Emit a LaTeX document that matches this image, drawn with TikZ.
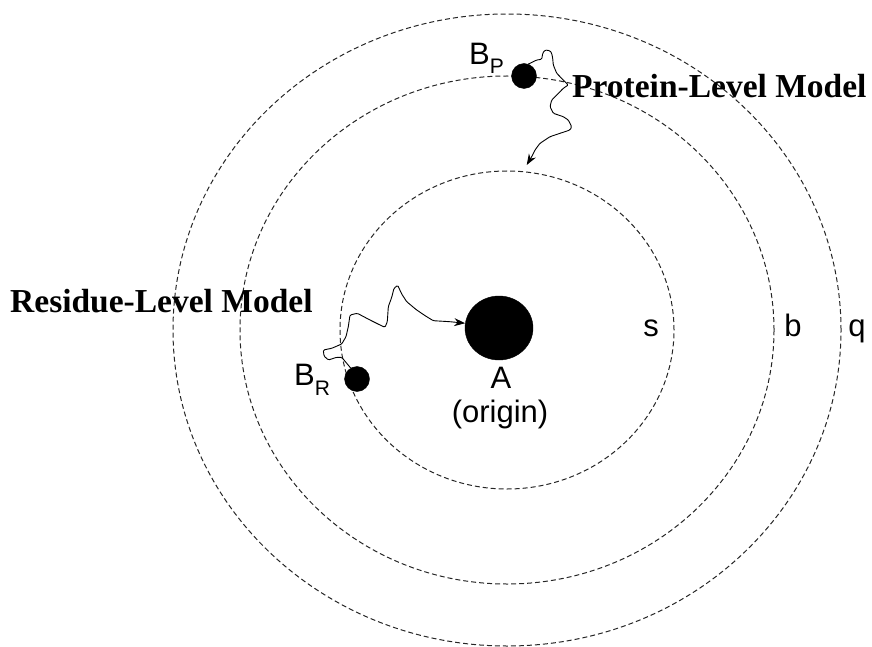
\documentclass[tikz,border=0pt]{standalone}
\usepackage{fontspec}
\setmainfont{Liberation Serif}
\setsansfont{Liberation Sans}
\usetikzlibrary{shapes.geometric,arrows.meta}
\newcommand{\lowsub}[2]{\raisebox{-#1}{\fontsize{21}{21}\selectfont #2}}
\begin{document}
\begin{tikzpicture}[x=1pt,y=-1pt,
  ring/.style={draw=black!85, line width=1pt, dash pattern=on 5pt off 3pt},
  dot/.style={circle, fill=black, draw=black, inner sep=0pt, minimum size=25pt},
  bigdot/.style={ellipse, fill=black, draw=black, inner sep=0pt, minimum width=68pt, minimum height=64pt},
  model/.style={font=\fontsize{33.5}{37}\selectfont\bfseries, inner sep=0pt},
  lab/.style={font=\sffamily\fontsize{31}{35}\selectfont, inner sep=0pt},
  walk/.style={draw=black, line width=0.9pt, rounded corners=1.2pt, -{Stealth[length=11pt,width=8pt]}}]
\useasboundingbox (0,0) rectangle (872,647);
% rings
\coordinate (c) at (507,330);
\draw[ring] (c) ellipse [x radius=167pt, y radius=159pt];
\draw[ring] (c) ellipse [x radius=267pt, y radius=254pt];
\draw[ring] (c) ellipse [x radius=334pt, y radius=316pt];
% dots
\node[bigdot] (a) at (499,328) {};
\node[dot] (bp) at (524,76) {};
\node[dot] (br) at (357,379) {};
% labels
\node[lab, anchor=base] (alab) at (501,388) {A};
\node[lab, anchor=base] (orig) at (500,422) {(origin)};
\node[lab, anchor=base west] (bplab) at (469,65) {B\lowsub{9pt}{P}};
\node[lab, anchor=base west] (brlab) at (294,385) {B\lowsub{10pt}{R}};
\node[lab, anchor=base] (s) at (651,336) {s};
\node[lab, anchor=base] (b) at (793,336) {b};
\node[lab, anchor=base] (q) at (857,336) {q};
\node[model, anchor=base west] (pm) at (572,98) {Protein-Level Model};
\node[model, anchor=base west] (rm) at (10,312) {Residue-Level Model};
% walks
\coordinate (pend) at (526.7,165);
\draw[walk] (bp.70) -- (536.7,60) -- (541.7,59.3) -- (542.7,53.3) -- (545,50) -- (550,50.7)
  -- (551.7,53.3) -- (552.7,58.3) -- (553.3,65) -- (556.7,73.3) -- (563.3,80) -- (568.3,85)
  -- (563.3,88.3) -- (556.7,95) -- (551.7,100) -- (550,106.7) -- (553.3,113.3) -- (563.3,116.7)
  -- (568.3,120) -- (571.7,126.7) -- (570,130) -- (560,133.3) -- (550,136.7) -- (540,143.3)
  -- (535,150) -- (531.7,156.7) -- (pend);
\draw[walk] (br.120) -- (341.7,357.3) -- (336.7,357.3) -- (328.3,360) -- (324,356) -- (323.3,350)
  -- (331.7,348.3) -- (341.7,344) -- (346,336.7) -- (348.3,326.7) -- (350,315) -- (357.3,313.3)
  -- (370,320) -- (380,325) -- (385,327.3) -- (387.3,321.7) -- (388.3,306.7) -- (391.7,297.3)
  -- (394,288.3) -- (397.7,285.3) -- (401.7,294) -- (406.7,301.7) -- (416.7,310) -- (426.7,316.7)
  -- (433.3,320.7) -- (450,321.7) -- (a.172);
\end{tikzpicture}
\end{document}
